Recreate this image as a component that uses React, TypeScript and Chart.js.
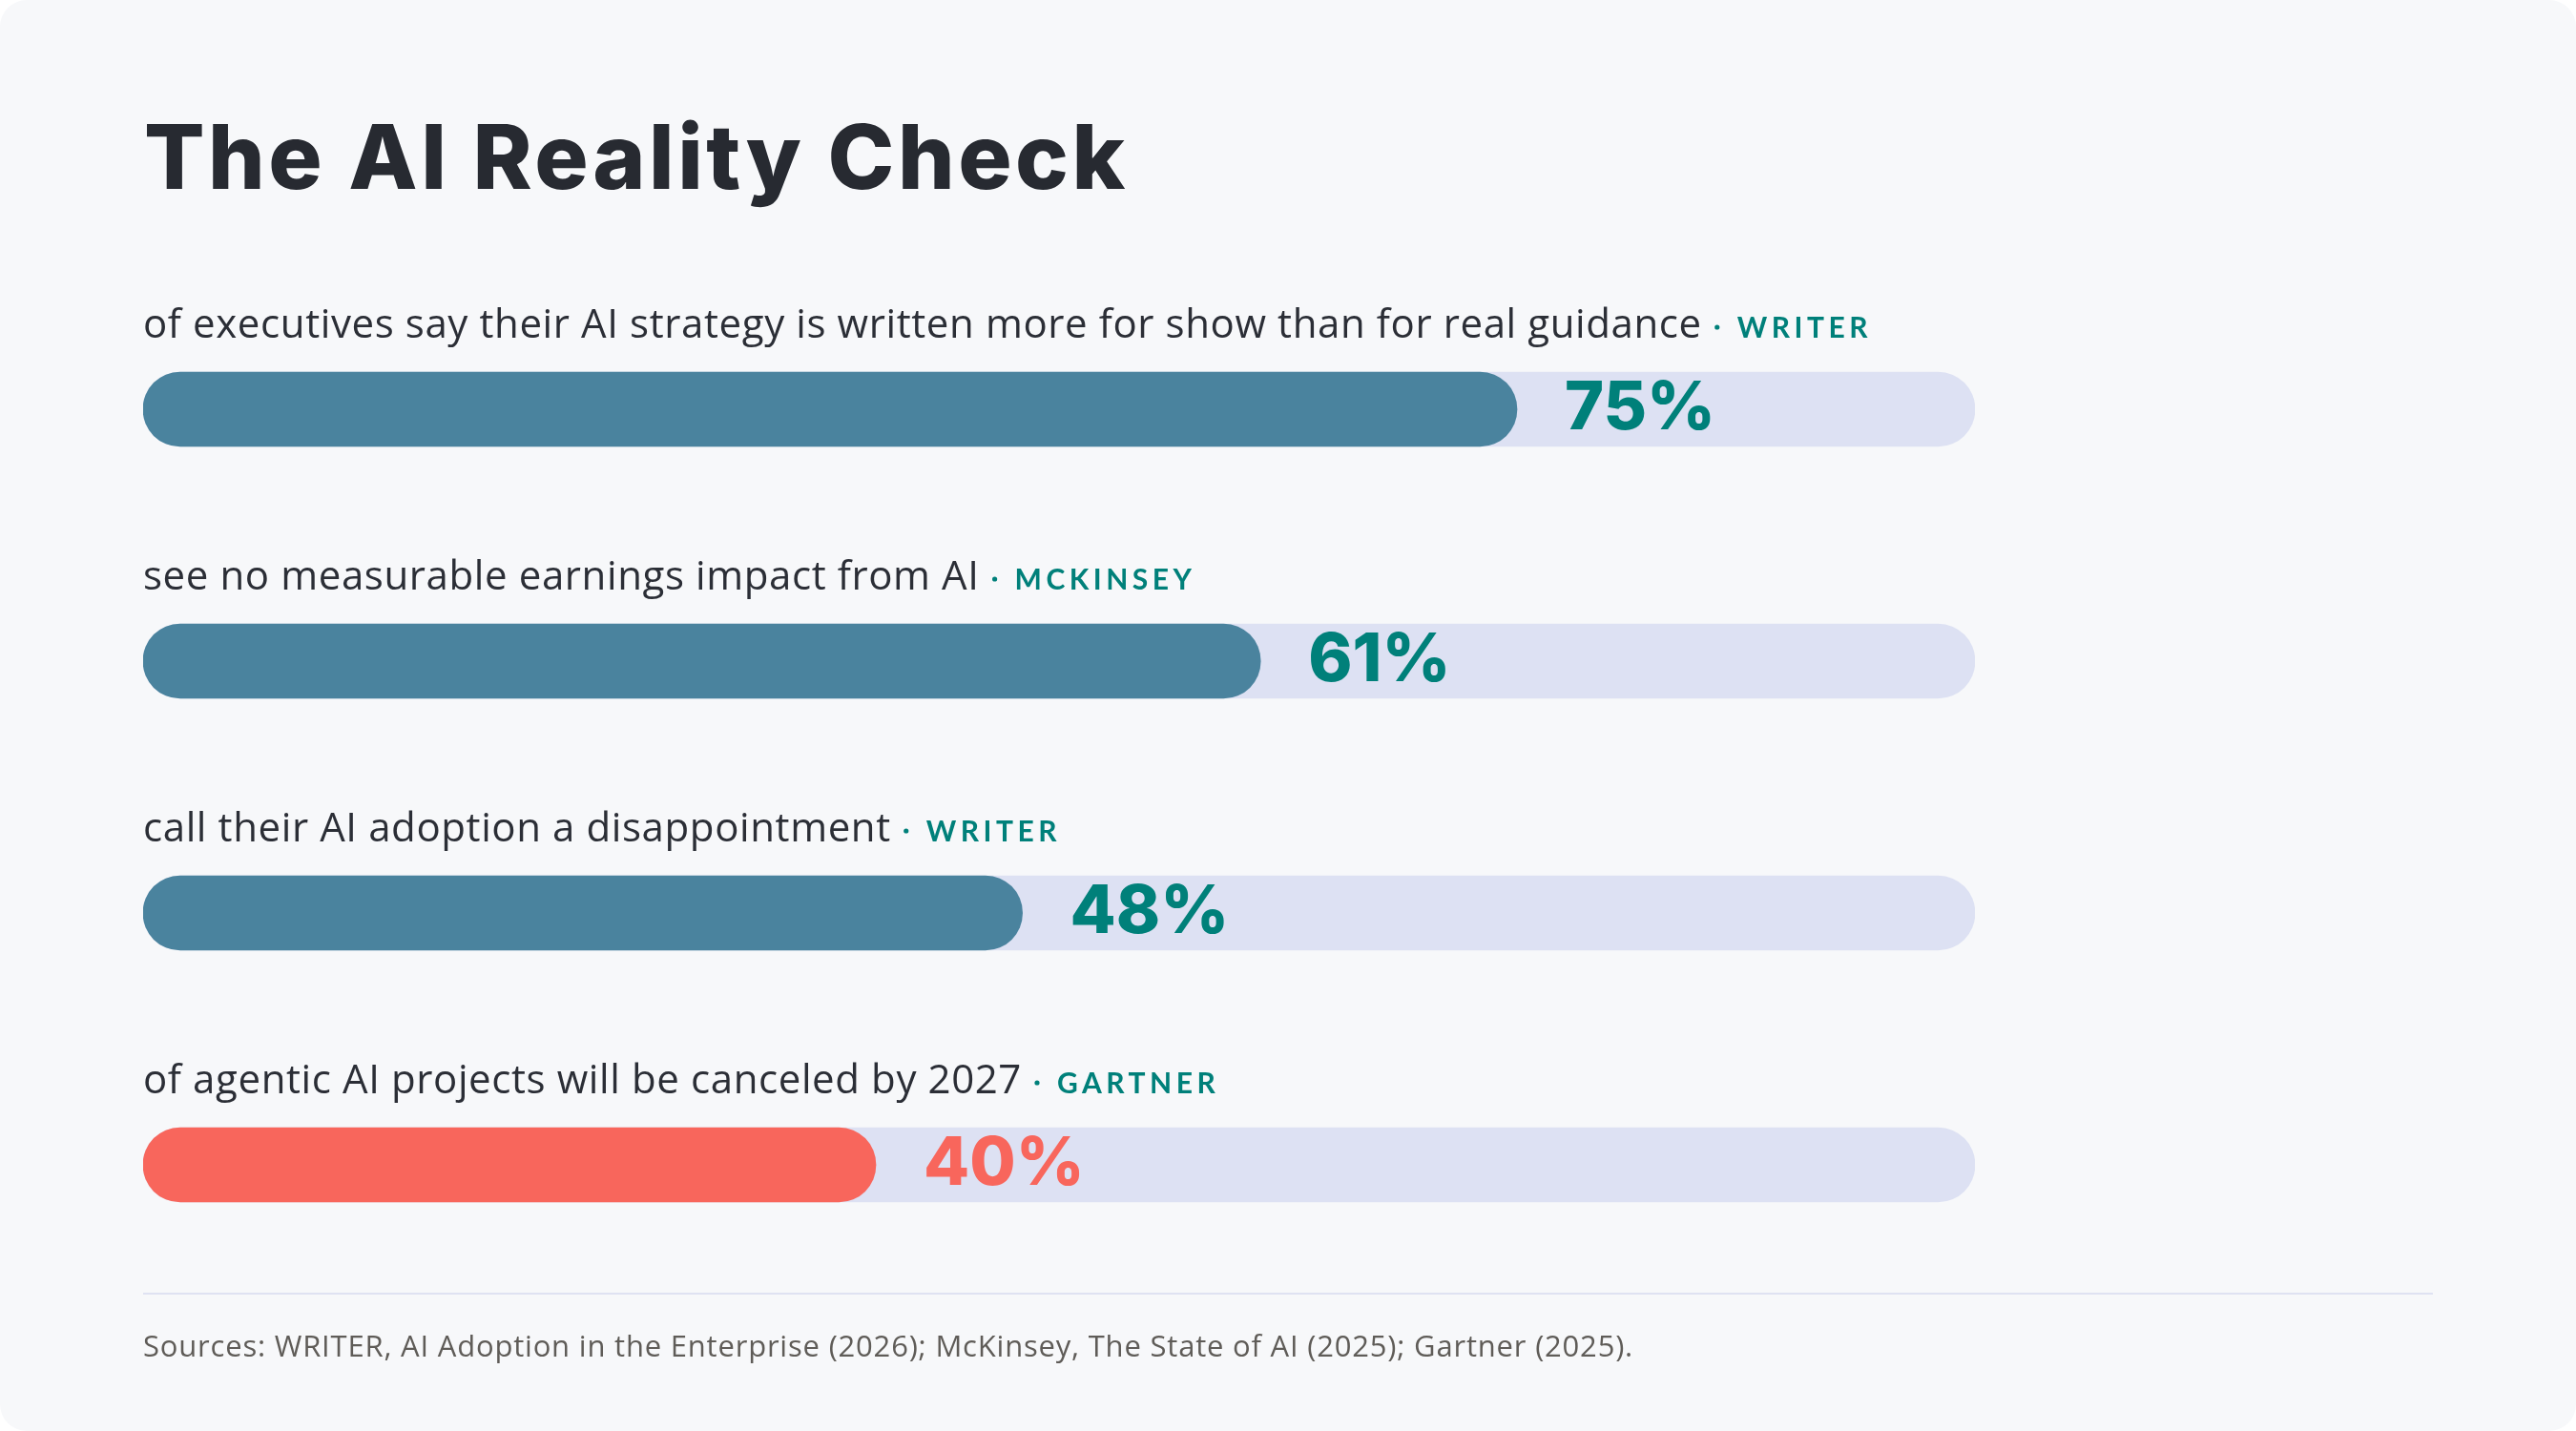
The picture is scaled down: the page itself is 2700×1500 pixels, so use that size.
import React, { useEffect, useRef } from "react";
import { Chart, registerables } from "chart.js";

Chart.register(...registerables);

const title = "The AI Reality Check";
const categories = [
  "of executives say their AI strategy is written more for show than for real guidance",
  "see no measurable earnings impact from AI",
  "call their AI adoption a disappointment",
  "of agentic AI projects will be canceled by 2027",
];
const sources = ["WRITER", "MCKINSEY", "WRITER", "GARTNER"];
const values = [75, 61, 48, 40];
const trackValues = [100, 100, 100, 100];
const barColors = ["#4a839e", "#4a839e", "#4a839e", "#f8665c"];
const valueLabelColors = ["#00807a", "#00807a", "#00807a", "#f8665c"];
const footerText =
  "Sources: WRITER, AI Adoption in the Enterprise (2026); McKinsey, The State of AI (2025); Gartner (2025).";

const W = 2700;
const H = 1500;

const overlayPlugin = {
  id: "overlayText",
  afterDatasetsDraw(chart: any) {
    const ctx = chart.ctx as CanvasRenderingContext2D;
    const c = ctx as any;
    const left = chart.chartArea.left;
    ctx.save();
    // Title
    ctx.textAlign = "left";
    ctx.textBaseline = "alphabetic";
    ctx.fillStyle = "#272a31";
    ctx.font = "800 94px Inter";
    c.letterSpacing = "3.5px";
    ctx.fillText(title, 151, 198);
    c.letterSpacing = "0px";

    const meta = chart.getDatasetMeta(0);
    meta.data.forEach((el: any, i: number) => {
      const p = el.getProps(["x", "y", "height"], true);
      const top = p.y - p.height / 2;
      const baseline = top - 36;
      // category label
      ctx.font = "400 42px 'Open Sans'";
      ctx.fillStyle = "#2b2e36";
      c.letterSpacing = "0.6px";
      ctx.fillText(categories[i], left, baseline);
      const w = ctx.measureText(categories[i]).width;
      c.letterSpacing = "0px";
      // dot + source
      ctx.fillStyle = "#00807a";
      ctx.beginPath();
      ctx.arc(left + w + 16, baseline - 11, 2.6, 0, Math.PI * 2);
      ctx.fill();
      ctx.font = "700 30px Lato";
      c.letterSpacing = "4.5px";
      ctx.fillText(sources[i], left + w + 37, baseline);
      c.letterSpacing = "0px";
      // value label
      ctx.font = "800 70px Inter";
      ctx.fillStyle = valueLabelColors[i];
      ctx.fillText(values[i] + "%", p.x + 50, p.y + 21);
    });

    // footer rule
    ctx.fillStyle = "#dfe2f2";
    ctx.fillRect(150, 1355, 2400, 2);
    // footer text
    ctx.font = "400 31px 'Open Sans'";
    ctx.fillStyle = "#5f5c58";
    c.letterSpacing = "0.8px";
    ctx.fillText(footerText, 150, 1422);
    c.letterSpacing = "0px";
    ctx.restore();
  },
};

export default function App() {
  const ref = useRef<HTMLCanvasElement | null>(null);
  useEffect(() => {
    if (!ref.current) return;
    const chart = new Chart(ref.current, {
      type: "bar",
      data: {
        labels: categories,
        datasets: [
          {
            data: values,
            backgroundColor: barColors,
            borderRadius: 200,
            borderSkipped: false,
            barThickness: 78,
            grouped: false,
            order: 0,
          } as any,
          {
            data: trackValues,
            backgroundColor: "#dde1f3",
            borderRadius: 200,
            borderSkipped: false,
            barThickness: 78,
            grouped: false,
            order: 1,
          } as any,
        ],
      },
      options: {
        indexAxis: "y",
        responsive: false,
        maintainAspectRatio: false,
        animation: false,
        devicePixelRatio: 1,
        layout: { padding: { left: 150, right: 630, top: 297, bottom: 147 } },
        scales: {
          x: { display: false, min: 0, max: 100 },
          y: { display: false },
        },
        plugins: { legend: { display: false }, tooltip: { enabled: false } },
      },
      plugins: [overlayPlugin],
    });
    return () => chart.destroy();
  }, []);

  return (
    <div
      style={{
        position: "absolute",
        left: 0,
        top: 0,
        width: W,
        height: H,
        background: "#f7f8fa",
        borderRadius: 28,
        overflow: "hidden",
      }}
    >
      <canvas ref={ref} width={W} height={H} style={{ width: W, height: H, display: "block" }} />
    </div>
  );
}
